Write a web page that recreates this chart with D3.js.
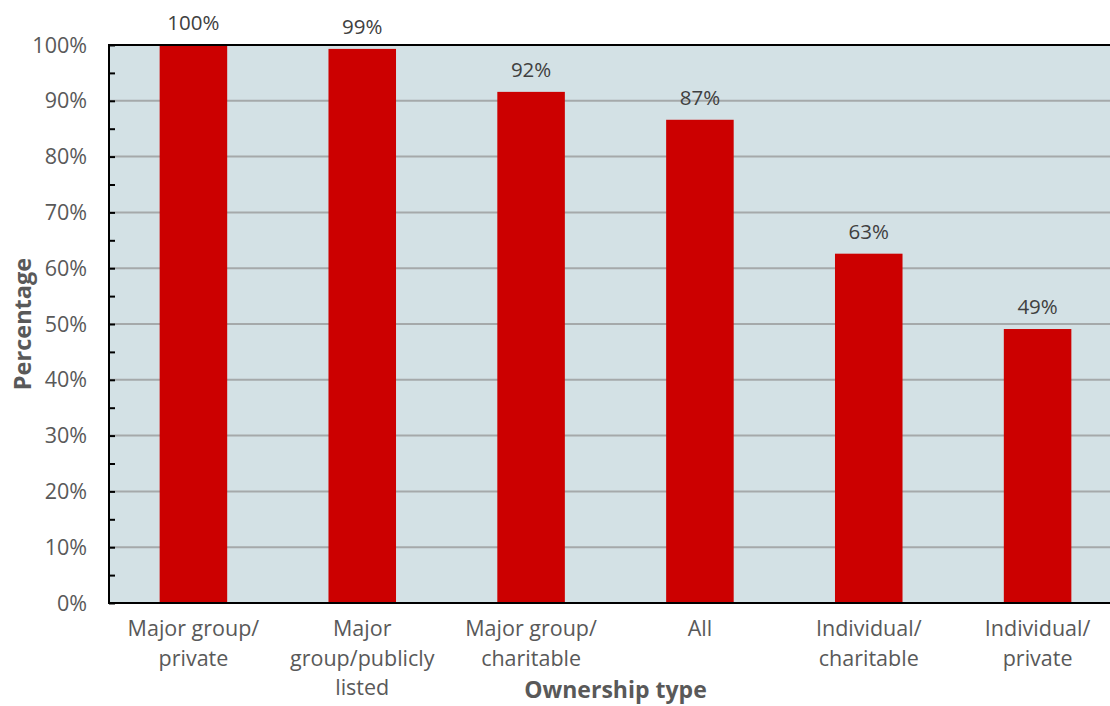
<!DOCTYPE html>
<html>
<head>
<meta charset="utf-8">
<script src="https://cdn.jsdelivr.net/npm/d3@7"></script>
<style>
  html, body { margin: 0; padding: 0; background: #ffffff; }
  svg { display: block; font-family: "Open Sans", "Noto Sans", sans-serif; }
</style>
</head>
<body>
<svg id="chart" width="1110" height="706"></svg>
<script>
// Share of sites by ownership type
const categories = [
  ["Major group/", "private"],
  ["Major", "group/publicly", "listed"],
  ["Major group/", "charitable"],
  ["All"],
  ["Individual/", "charitable"],
  ["Individual/", "private"]
];
const values = [1.00, 0.993, 0.916, 0.866, 0.626, 0.491];
const yTicks = [0, 0.1, 0.2, 0.3, 0.4, 0.5, 0.6, 0.7, 0.8, 0.9, 1.0];
const yMinorTicks = [0.05, 0.15, 0.25, 0.35, 0.45, 0.55, 0.65, 0.75, 0.85, 0.95];
const yTitle = "Percentage";
const xTitle = "Ownership type";

const svg = d3.select("#chart");
const plot = { left: 109, top: 45, right: 1122, bottom: 603 };

const x = d3.scaleBand()
  .domain(d3.range(categories.length))
  .range([plot.left, plot.right])
  .paddingInner(0.6)
  .paddingOuter(0.3);

const y = d3.scaleLinear().domain([0, 1]).range([plot.bottom, plot.top]);
const pct = d3.format(".0%");

// plot background
svg.append("rect")
  .attr("x", plot.left).attr("y", plot.top)
  .attr("width", plot.right - plot.left).attr("height", plot.bottom - plot.top)
  .attr("fill", "#d3e1e5");

// horizontal gridlines
svg.append("g")
  .selectAll("line")
  .data(yTicks.filter(d => d > 0 && d < 1))
  .join("line")
  .attr("x1", plot.left).attr("x2", plot.right)
  .attr("y1", d => y(d)).attr("y2", d => y(d))
  .attr("stroke", "#a5a9aa").attr("stroke-width", 2);

// bars
svg.append("g")
  .selectAll("rect")
  .data(values)
  .join("rect")
  .attr("x", (d, i) => x(i))
  .attr("width", x.bandwidth())
  .attr("y", d => y(d))
  .attr("height", d => y(0) - y(d))
  .attr("fill", "#cc0000");

// value labels
svg.append("g")
  .selectAll("text")
  .data(values)
  .join("text")
  .attr("x", (d, i) => x(i) + x.bandwidth() / 2)
  .attr("y", d => y(d) - 15)
  .attr("text-anchor", "middle")
  .attr("font-size", 20.5)
  .attr("fill", "#404040")
  .text(d => pct(d));

// y axis with inward ticks (minor and major)
[yMinorTicks, yTicks].forEach(tv => {
  svg.append("g")
    .attr("transform", `translate(${plot.left},0)`)
    .call(d3.axisRight(y).tickValues(tv).tickSize(6).tickFormat(""))
    .call(g => g.select(".domain").remove())
    .call(g => g.selectAll("line").attr("stroke", "#000").attr("stroke-width", 2));
});

svg.append("g")
  .selectAll("text")
  .data(yTicks)
  .join("text")
  .attr("x", 87)
  .attr("y", d => y(d))
  .attr("dy", "0.35em")
  .attr("text-anchor", "end")
  .attr("font-size", 21.5)
  .attr("fill", "#595959")
  .text(d => pct(d));

// frame: left, bottom, top
svg.append("path")
  .attr("d", `M${plot.right},${plot.top}H${plot.left}V${plot.bottom}H${plot.right}`)
  .attr("fill", "none").attr("stroke", "#000").attr("stroke-width", 2);

// category labels
const catG = svg.append("g")
  .selectAll("text")
  .data(categories)
  .join("text")
  .attr("text-anchor", "middle")
  .attr("font-size", 21.5)
  .attr("fill", "#595959")
  .attr("transform", (d, i) => `translate(${x(i) + x.bandwidth() / 2},${plot.bottom + 33})`);
catG.selectAll("tspan")
  .data(d => d)
  .join("tspan")
  .attr("x", 0)
  .attr("dy", (d, i) => i === 0 ? 0 : 29.5)
  .text(d => d);

// axis titles
svg.append("text")
  .attr("x", (plot.left + plot.right) / 2)
  .attr("y", 698)
  .attr("text-anchor", "middle")
  .attr("font-size", 23)
  .attr("font-weight", "bold")
  .attr("fill", "#595959")
  .text(xTitle);

svg.append("text")
  .attr("transform", `translate(31,${(plot.top + plot.bottom) / 2}) rotate(-90)`)
  .attr("text-anchor", "middle")
  .attr("font-size", 23.5)
  .attr("font-weight", "bold")
  .attr("fill", "#595959")
  .text(yTitle);
</script>
</body>
</html>
